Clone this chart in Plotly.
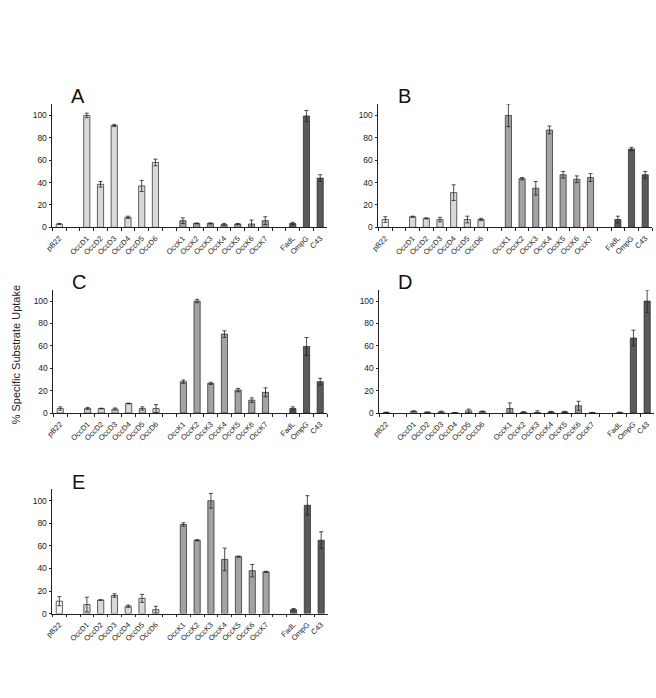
import plotly.graph_objects as go

W, H = 656, 698

categories = ["pB22", " ", "OccD1", "OccD2", "OccD3", "OccD4", "OccD5", "OccD6", "  ",
              "OccK1", "OccK2", "OccK3", "OccK4", "OccK5", "OccK6", "OccK7", "   ",
              "FadL", "OmpG", "C43"]
groups = ["w", None, "d", "d", "d", "d", "d", "d", None,
          "k", "k", "k", "k", "k", "k", "k", None,
          "c", "c", "c"]
group_colors = {"w": "#f4f4f4", "d": "#d9d9d9", "k": "#a3a3a3", "c": "#5a5a5a"}

# values per panel (None = gap slot)
A_vals = [3, None, 100, 38.5, 91, 9, 37, 58, None, 6, 3.5, 3.5, 2.5, 3, 3, 6, None, 3.5, 99.5, 44]
A_err = [0.5, 0, 2, 2.5, 1, 1, 5, 3, 0, 2.5, 0.4, 0.5, 1, 0.5, 3.5, 3.5, 0, 1, 5, 3]
B_vals = [7, None, 9.5, 8, 7, 31, 7, 7, None, 100, 43.5, 35, 87, 47, 43, 44.5, None, 7, 70, 47]
B_err = [2.5, 0, 0.5, 0.5, 2, 7, 3, 1, 0, 10, 1, 6, 3.5, 3, 3, 3.5, 0, 3, 1.5, 3]
C_vals = [4, None, 4, 4, 3.5, 8.5, 4, 4, None, 28, 100, 26.5, 70.5, 20.5, 11.5, 18.5, None, 4, 59.5, 28]
C_err = [1.5, 0, 1, 0.3, 1, 0.3, 1.5, 3.5, 0, 1.5, 1.5, 1, 3, 1.5, 2, 4, 0, 1.5, 8, 3]
D_vals = [0.5, None, 1.5, 0.7, 1, 0.3, 2, 1.3, None, 4, 0.5, 0.5, 1, 1, 6.5, 0.3, None, 0.3, 67, 100]
D_err = [0.3, 0, 0.5, 0.2, 0.7, 0.2, 1.5, 0.5, 0, 5, 0.8, 1.5, 0.5, 0.5, 4, 0.2, 0, 0.5, 7, 10]
E_vals = [11, None, 8, 12, 16, 6.5, 13.5, 3.5, None, 79, 65, 100, 48, 50.5, 38, 37, None, 3.5, 96, 65]
E_err = [4, 0, 6.5, 0.2, 1.5, 1, 3.5, 3, 0, 1.5, 0.5, 6.5, 10, 0.5, 5.5, 0.5, 0, 1, 8.5, 7.5]

y_ticks = [0, 20, 40, 60, 80, 100]

panels = [
    ("A", A_vals, A_err, (45, 323), (105, 229)),
    ("B", B_vals, B_err, (375, 652), (105, 229)),
    ("C", C_vals, C_err, (46, 323), (292, 416)),
    ("D", D_vals, D_err, (376, 654), (292, 416)),
    ("E", E_vals, E_err, (45, 324), (493, 618)),
]

fig = go.Figure()
colors = [group_colors[g] if g else "#ffffff" for g in groups]
annotations = []
for i, (letter, vals, errs, (x0, x1), (y0, y1)) in enumerate(panels):
    n = "" if i == 0 else str(i + 1)
    fig.add_trace(go.Bar(
        x=categories, y=vals,
        marker=dict(color=colors, line=dict(color="#222222", width=0.7)),
        error_y=dict(type="data", array=errs, visible=True, color="#222222",
                     thickness=0.8, width=2),
        xaxis="x" + n, yaxis="y" + n, showlegend=False, hoverinfo="x+y",
    ))
    fig.layout["xaxis" + n] = dict(
        domain=[x0 / W, x1 / W], anchor="y" + n, type="category",
        categoryorder="array", categoryarray=categories,
        tickson="boundaries", ticks="outside", ticklen=3, tickwidth=0.8,
        tickcolor="#222222", showline=True, linecolor="#222222", linewidth=0.8,
        tickangle=-45, ticklabelstandoff=3,
        tickfont=dict(family="Liberation Sans, Arial", size=7.5, color="#222222"),
        showgrid=False, zeroline=False, fixedrange=True,
    )
    fig.layout["yaxis" + n] = dict(
        domain=[1 - y1 / H, 1 - y0 / H], anchor="x" + n, range=[0, 110],
        tickvals=y_ticks, ticks="outside", ticklen=3, tickwidth=0.8,
        tickcolor="#222222", showline=True, linecolor="#222222", linewidth=0.8,
        tickfont=dict(family="Liberation Sans, Arial", size=8.5, color="#222222"),
        showgrid=False, zeroline=False, fixedrange=True,
    )
    annotations.append(dict(
        text=letter, x=(x0 + 26) / W, y=1 - (y0 - 8) / H, xref="paper", yref="paper",
        showarrow=False, xanchor="center", yanchor="middle",
        font=dict(family="Liberation Sans, Arial", size=20, color="#111111"),
    ))

annotations.append(dict(
    text="% Specific Substrate Uptake", x=9 / W, y=1 - 357 / H, xref="paper", yref="paper",
    showarrow=False, textangle=-90, xanchor="center", yanchor="middle",
    font=dict(family="Liberation Sans, Arial", size=11, color="#222222"),
))

fig.update_layout(
    width=W, height=H, margin=dict(l=0, r=0, t=0, b=0),
    paper_bgcolor="white", plot_bgcolor="white",
    bargap=0.55, annotations=annotations,
)

fig.write_html("out.html", config={"displayModeBar": False},
               post_script="document.body.style.margin='0';document.body.style.overflow='hidden';")
